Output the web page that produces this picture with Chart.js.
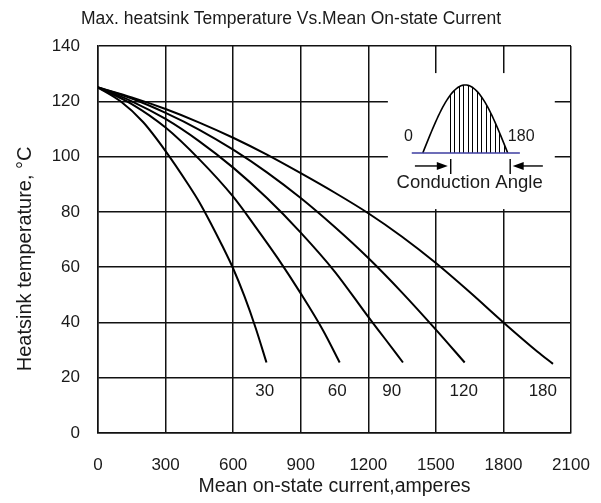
<!DOCTYPE html>
<html>
<head>
<meta charset="utf-8">
<script src="https://cdn.jsdelivr.net/npm/chart.js@4.4.1/dist/chart.umd.min.js"></script>
<style>
html,body{margin:0;padding:0;background:#fff;}
#wrap{width:601px;height:503px;}
canvas{display:block;}
</style>
</head>
<body>
<div id="wrap"><canvas id="c" width="601" height="503"></canvas></div>
<script>
// ---------- data ----------
const chartTitle = "Max. heatsink Temperature Vs.Mean On-state Current";
const xAxisTitle = "Mean on-state current,amperes";
const yAxisTitle = "Heatsink temperature, \u00B0C";
const xTicks = [0, 300, 600, 900, 1200, 1500, 1800, 2100];
const yTicks = [0, 20, 40, 60, 80, 100, 120, 140];

const conductionAngles = ["30", "60", "90", "120", "180"];

const current30 = [0, 100, 200, 300, 400, 450, 500, 550, 600, 650, 700, 748];
const temp30    = [125, 120, 112.5, 102, 90, 83.5, 76, 68, 59.5, 49.5, 38, 25.5];

const current60 = [0, 150, 300, 450, 600, 700, 800, 900, 1000, 1073];
const temp60    = [125, 119, 110.5, 99, 85.5, 74.5, 63, 50.5, 37, 25.5];

const current90 = [0, 150, 300, 450, 600, 750, 900, 1050, 1200, 1275, 1354];
const temp90    = [125, 120, 113.6, 105.5, 96, 85, 72.5, 58.5, 42, 34, 25.5];

const current120 = [0, 150, 300, 450, 600, 750, 900, 1050, 1200, 1350, 1500, 1628];
const temp120    = [125, 121, 115.8, 109.7, 102.5, 94.3, 85, 74.6, 63.3, 50.8, 37.4, 25.5];

const current180 = [0, 150, 300, 450, 600, 750, 900, 1050, 1200, 1350, 1500, 1650, 1800, 1950, 2020];
const temp180    = [125, 121.4, 117.2, 112.3, 106.8, 100.7, 94, 87, 79.5, 71, 61.5, 51, 40, 29.5, 25];

// curve label anchors (data units)
const labelCurrent = [740, 1062, 1304, 1624, 1975];
const labelTemp = 14.9;

// ---------- styling ----------
const FONT = "'Liberation Sans', Arial, Helvetica, sans-serif";
const INK = '#1a1a1a';

const seriesCurrent = [current30, current60, current90, current120, current180];
const seriesTemp = [temp30, temp60, temp90, temp120, temp180];

const datasets = conductionAngles.map((name, k) => ({
  label: name,
  data: seriesCurrent[k].map((c, i) => ({ x: c, y: seriesTemp[k][i] })),
  borderColor: '#000',
  borderWidth: 2,
  pointRadius: 0,
  fill: false,
  cubicInterpolationMode: 'monotone'
}));

// inset geometry in data units
const inset = {
  box: [1287, 2028, 81, 130.2],        // xmin, xmax, ymin, ymax
  base: [1393, 1873, 101.3],           // x0, x1, y
  hump: [1442, 1819, 125.9],           // x0, x1, peakY
  hatchStart: 1562, hatchStep: 20,
  zeroLabel: [1378, 107.1],
  endLabel: [1879, 107.1],
  arrowY: 96.6, barTop: 99.1, barBot: 93.7,
  leftArrow: [1407, 1553, 1566],       // tail, tip, bar
  rightArrow: [1975, 1841, 1830],
  caption: [1650, 90.4]
};
// y-axis title centre (data units)
const yTitleAt = 63;

const insetPlugin = {
  id: 'insetPlugin',
  beforeDatasetsDraw(chart) {
    const { ctx, scales: { x, y } } = chart;
    const X = v => x.getPixelForValue(v), Y = v => y.getPixelForValue(v);
    ctx.save();
    const b = inset.box;
    ctx.fillStyle = '#fff';
    ctx.fillRect(X(b[0]), Y(b[3]), X(b[1]) - X(b[0]), Y(b[2]) - Y(b[3]));

    const baseY = Y(inset.base[2]);
    const hx0 = X(inset.hump[0]), hx1 = X(inset.hump[1]);
    const peakY = Y(inset.hump[2]);
    const humpAt = px => baseY - (baseY - peakY) * Math.sin(Math.PI * (px - hx0) / (hx1 - hx0));

    ctx.strokeStyle = '#000';
    ctx.lineWidth = 1;
    for (let v = inset.hatchStart; v < inset.hump[1]; v += inset.hatchStep) {
      const px = Math.round(X(v)) + 0.5;
      ctx.beginPath();
      ctx.moveTo(px, baseY);
      ctx.lineTo(px, humpAt(px));
      ctx.stroke();
    }
    ctx.lineWidth = 1.6;
    ctx.beginPath();
    for (let i = 0; i <= 60; i++) {
      const px = hx0 + (hx1 - hx0) * i / 60;
      const py = humpAt(px);
      if (i === 0) ctx.moveTo(px, py); else ctx.lineTo(px, py);
    }
    ctx.stroke();
    ctx.strokeStyle = '#3c3ca0';
    ctx.lineWidth = 1.6;
    ctx.beginPath();
    ctx.moveTo(X(inset.base[0]), baseY);
    ctx.lineTo(X(inset.base[1]), baseY);
    ctx.stroke();

    ctx.strokeStyle = '#000';
    ctx.fillStyle = '#000';
    ctx.lineWidth = 1.4;
    const ay = Y(inset.arrowY);
    const drawArrow = (tail, tip, bar) => {
      const t = X(tail), p = X(tip), br = X(bar);
      const dir = Math.sign(p - t);
      ctx.beginPath();
      ctx.moveTo(t, ay);
      ctx.lineTo(p - dir * 9, ay);
      ctx.stroke();
      ctx.beginPath();
      ctx.moveTo(p, ay);
      ctx.lineTo(p - dir * 11, ay - 4);
      ctx.lineTo(p - dir * 11, ay + 4);
      ctx.closePath();
      ctx.fill();
      ctx.beginPath();
      ctx.moveTo(br, Y(inset.barTop));
      ctx.lineTo(br, Y(inset.barBot));
      ctx.stroke();
    };
    drawArrow(...inset.leftArrow);
    drawArrow(...inset.rightArrow);

    ctx.fillStyle = INK;
    ctx.textAlign = 'center';
    ctx.textBaseline = 'middle';
    ctx.font = `16px ${FONT}`;
    ctx.fillText('0', X(inset.zeroLabel[0]), Y(inset.zeroLabel[1]));
    ctx.fillText('180', X(inset.endLabel[0]), Y(inset.endLabel[1]));
    ctx.font = `18.5px ${FONT}`;
    ctx.fillText('Conduction Angle', X(inset.caption[0]), Y(inset.caption[1]));
    ctx.restore();
  },
  afterDatasetsDraw(chart) {
    const { ctx, scales: { x, y } } = chart;
    ctx.save();
    ctx.fillStyle = INK;
    ctx.textAlign = 'center';
    ctx.textBaseline = 'middle';
    ctx.font = `17px ${FONT}`;
    conductionAngles.forEach((name, k) => {
      ctx.fillText(name, x.getPixelForValue(labelCurrent[k]), y.getPixelForValue(labelTemp));
    });
    // y axis title
    ctx.translate(25, y.getPixelForValue(yTitleAt));
    ctx.rotate(-Math.PI / 2);
    ctx.font = `20px ${FONT}`;
    ctx.fillText(yAxisTitle, 0, 0);
    ctx.restore();
  }
};

new Chart(document.getElementById('c'), {
  type: 'line',
  data: { datasets },
  options: {
    responsive: false,
    animation: false,
    devicePixelRatio: 1,
    layout: { padding: { left: 11, right: 30, top: 0, bottom: 0 } },
    plugins: {
      legend: { display: false },
      tooltip: { enabled: false },
      title: {
        display: true,
        text: chartTitle,
        color: INK,
        font: { family: FONT, size: 17.5, weight: 'normal' },
        padding: { top: 8.5, bottom: 16.5 }
      }
    },
    scales: {
      x: {
        type: 'linear',
        min: 0, max: 2100,
        afterBuildTicks: s => { s.ticks = xTicks.map(v => ({ value: v })); },
        afterFit: s => { s.height = 70; s.paddingLeft = 0; s.paddingRight = 0; },
        ticks: { color: INK, font: { family: FONT, size: 17 }, padding: 22, maxRotation: 0,
                 callback: v => String(v) },
        grid: { color: '#111', lineWidth: 1.5, drawTicks: false },
        border: { color: '#111', width: 1.5 },
        title: {
          display: true, text: xAxisTitle, color: INK,
          font: { family: FONT, size: 19.5 }, padding: { top: 0, bottom: 5 }
        }
      },
      y: {
        type: 'linear',
        min: 0, max: 140,
        afterBuildTicks: s => { s.ticks = yTicks.map(v => ({ value: v })); },
        afterFit: s => { s.width = 87; },
        ticks: { color: INK, font: { family: FONT, size: 17 }, padding: 18,
                 callback: v => String(v) },
        grid: { color: '#111', lineWidth: 1.5, drawTicks: false },
        border: { color: '#111', width: 1.5 },
        title: { display: false }
      }
    }
  },
  plugins: [insetPlugin]
});
</script>
</body>
</html>
